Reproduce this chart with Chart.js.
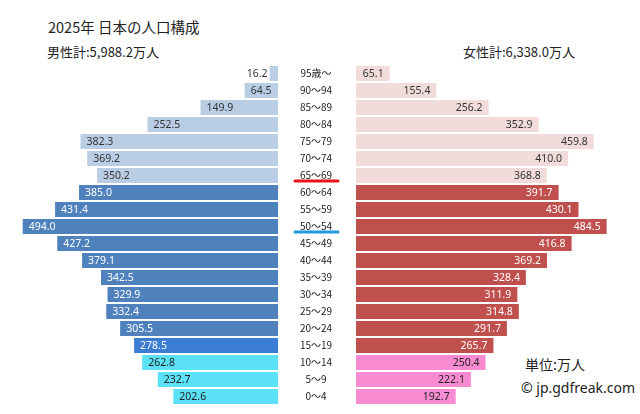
<!DOCTYPE html>
<html>
<head>
<meta charset="utf-8">
<script src="https://cdn.jsdelivr.net/npm/chart.js@4.4.1/dist/chart.umd.min.js"></script>
<style>
  html, body { margin:0; padding:0; background:#fff; }
  #wrap { position:relative; width:640px; height:414px; overflow:hidden; font-family:"Noto Sans CJK JP", sans-serif; color:#222; }
  .t { position:absolute; white-space:nowrap; line-height:1; }
  canvas { position:absolute; }
</style>
</head>
<body>
<div id="wrap">
  <div class="t" id="title" style="left:48px; top:20px; font-size:14.5px;">2025年 日本の人口構成</div>
  <div class="t" id="mt" style="left:47px; top:45px; font-size:13px;">男性計:5,988.2万人</div>
  <div class="t" id="ft" style="left:463px; top:45px; font-size:13px;">女性計:6,338.0万人</div>
  <div class="t" style="left:525px; top:357px; font-size:14px;">単位:万人</div>
  <div class="t" style="left:521px; top:381px; font-size:14px; font-family:'Noto Sans', sans-serif;">© jp.gdfreak.com</div>
  <canvas id="left" width="278" height="340" style="left:0; top:65px; width:278px; height:340px;"></canvas>
  <canvas id="right" width="362" height="340" style="left:278px; top:65px; width:362px; height:340px;"></canvas>
</div>
<script>
const ages = ['95歳～','90～94','85～89','80～84','75～79','70～74','65～69','60～64','55～59','50～54','45～49','40～44','35～39','30～34','25～29','20～24','15～19','10～14','5～9','0～4'];
const maleValues = [16.2,64.5,149.9,252.5,382.3,369.2,350.2,385.0,431.4,494.0,427.2,379.1,342.5,329.9,332.4,305.5,278.5,262.8,232.7,202.6];
const femaleValues = [65.1,155.4,256.2,352.9,459.8,410.0,368.8,391.7,430.1,484.5,416.8,369.2,328.4,311.9,314.8,291.7,265.7,250.4,222.1,192.7];

function group(i) { return i <= 6 ? 'old' : (i <= 15 ? 'work' : (i === 16 ? 'teen' : 'kid')); }
const maleColors = ages.map((a, i) => ({old:'#b9cde5', work:'#4f81bd', teen:'#3b7dd2', kid:'#5be1f8'})[group(i)]);
const femaleColors = ages.map((a, i) => ({old:'#f2dcdb', work:'#c0504d', teen:'#c0504d', kid:'#f98bd2'})[group(i)]);
const labelColor = i => ({old:'#333', work:'#fff', teen:'#fff', kid:'#222'})[group(i)];

const VALUE_FONT = '10.5px "Noto Sans", sans-serif';

const valueLabels = (side) => ({
  id: 'valueLabels' + side,
  afterDatasetsDraw(chart) {
    const ctx = chart.ctx;
    const meta = chart.getDatasetMeta(0);
    const data = chart.data.datasets[0].data;
    ctx.save();
    ctx.font = VALUE_FONT;
    ctx.textBaseline = 'middle';
    meta.data.forEach((bar, i) => {
      const txt = data[i].toFixed(1);
      const w = ctx.measureText(txt).width;
      const barW = Math.abs(bar.x - bar.base);
      ctx.fillStyle = labelColor(i);
      if (side === 'L') {
        if (barW >= w + 8) { ctx.textAlign = 'left'; ctx.fillText(txt, bar.x + 6, bar.y + 0.5); }
        else { ctx.fillStyle = '#333'; ctx.textAlign = 'right'; ctx.fillText(txt, bar.x - 2, bar.y + 0.5); }
      } else {
        if (barW >= w + 8) { ctx.textAlign = 'right'; ctx.fillText(txt, bar.x - 6, bar.y + 0.5); }
        else { ctx.fillStyle = '#333'; ctx.textAlign = 'left'; ctx.fillText(txt, bar.x + 2, bar.y + 0.5); }
      }
    });
    ctx.restore();
  }
});

const underlines = {
  id: 'underlines',
  afterDraw(chart) {
    const ctx = chart.ctx;
    const ys = chart.scales.y;
    const left = chart.chartArea.left;
    const marks = [['65～69', '#e8141c'], ['50～54', '#1b9bd8']];
    ctx.save();
    ctx.lineWidth = 3;
    ctx.lineCap = 'round';
    marks.forEach(([lab, col]) => {
      const y = ys.getPixelForValue(ages.indexOf(lab)) + 5.5;
      ctx.strokeStyle = col;
      ctx.beginPath();
      ctx.moveTo(left - 61, y);
      ctx.lineTo(left - 18, y);
      ctx.stroke();
    });
    ctx.restore();
  }
};

// measure widest age label so ticks can be centered in the gap
const AGE_FONT_SIZE = 10;
const AGE_FONT_FAMILY = '"Noto Sans CJK JP", sans-serif';
const mctx = document.createElement('canvas').getContext('2d');
mctx.font = AGE_FONT_SIZE + 'px ' + AGE_FONT_FAMILY;
const widest = Math.max(...ages.map(a => mctx.measureText(a).width));
const GAP = 78;
const centerFromRight = 40;

const common = {
  indexAxis: 'y',
  responsive: false,
  maintainAspectRatio: false,
  animation: false,
  devicePixelRatio: 1,
  layout: { padding: 0 },
  plugins: { legend: { display: false }, tooltip: { enabled: false } },
};

new Chart(document.getElementById('left'), {
  type: 'bar',
  data: { labels: ages, datasets: [{ data: maleValues, backgroundColor: maleColors, categoryPercentage: 1, barPercentage: 0.88 }] },
  options: Object.assign({}, common, {
    scales: {
      x: { display: false, reverse: true, min: 0, max: 538 },
      y: { display: false }
    }
  }),
  plugins: [valueLabels('L')]
});

new Chart(document.getElementById('right'), {
  type: 'bar',
  data: { labels: ages, datasets: [{ data: femaleValues, backgroundColor: femaleColors, categoryPercentage: 1, barPercentage: 0.88 }] },
  options: Object.assign({}, common, {
    scales: {
      x: { display: false, min: 0, max: 549 },
      y: {
        position: 'left',
        grid: { display: false, drawTicks: false },
        border: { display: false },
        ticks: {
          color: '#222',
          font: { size: AGE_FONT_SIZE, family: AGE_FONT_FAMILY },
          crossAlign: 'center',
          padding: Math.max(0, centerFromRight - widest / 2),
          autoSkip: false
        },
        afterFit(scale) { scale.width = GAP; scale.paddingTop = 0; scale.paddingBottom = 0; }
      }
    }
  }),
  plugins: [valueLabels('R'), underlines]
});
</script>
</body>
</html>
